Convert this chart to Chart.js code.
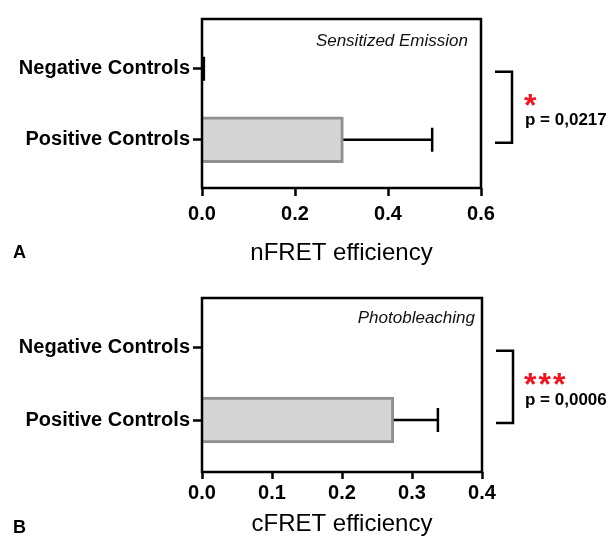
<!DOCTYPE html>
<html><head><meta charset="utf-8">
<script src="https://cdn.jsdelivr.net/npm/chart.js@4/dist/chart.umd.min.js"></script>
<style>
html,body{margin:0;padding:0;background:#fff;}
#wrap{position:relative;width:616px;height:544px;overflow:hidden;font-family:"Liberation Sans",Arial,sans-serif;color:#000;}
canvas{position:absolute;left:0;}
.t{position:absolute;white-space:nowrap;line-height:1;}
.b{font-weight:bold;}
.red{color:#f0141e;font-weight:bold;font-size:32px;}
.sub{font-style:italic;font-size:17px;color:#111;}
.p{font-weight:bold;font-size:17px;}
</style></head><body>
<div id="wrap">
<canvas id="cA" width="616" height="272" style="top:0"></canvas>
<canvas id="cB" width="616" height="272" style="top:272px"></canvas>
<div class="t b" style="left:13px;top:243px;font-size:18px;">A</div>
<div class="t b" style="left:13px;top:518px;font-size:18px;">B</div>
<div class="t sub" style="right:148px;top:32px;">Sensitized Emission</div>
<div class="t sub" style="right:141px;top:309px;">Photobleaching</div>
<div class="t red" style="left:524px;top:89px;">*</div>
<div class="t red" style="left:524px;top:368px;letter-spacing:2px;">***</div>
<div class="t p" style="left:525px;top:111px;">p = 0,0217</div>
<div class="t p" style="left:525px;top:391px;">p = 0,0006</div>
</div>
<script>
const categories = ['Negative Controls', 'Positive Controls'];
const nfretMeans = [0.002, 0.304];
const nfretErrors = [0.002, 0.191];
const cfretMeans = [0, 0.274];
const cfretErrors = [0, 0.063];
const nfretTicks = [0, 0.2, 0.4, 0.6];
const cfretTicks = [0, 0.1, 0.2, 0.3, 0.4];

const FONT = '"Liberation Sans", Arial, sans-serif';
Chart.defaults.color = '#000';
Chart.defaults.font.family = FONT;

function overlayPlugin(means, errors, cap, bracketOffset) {
  return {
    id: 'overlay',
    afterDatasetsDraw(chart) {
      const {ctx, scales: {x, y}} = chart;
      ctx.save();
      ctx.strokeStyle = '#000';
      ctx.lineWidth = 2.5;
      means.forEach((m, i) => {
        const e = errors[i];
        if (!(e > 0)) return;
        const yp = y.getPixelForValue(i);
        const x0 = x.getPixelForValue(m);
        const x1 = x.getPixelForValue(m + e);
        ctx.beginPath();
        ctx.moveTo(x0, yp); ctx.lineTo(x1, yp);
        ctx.moveTo(x1, yp - cap); ctx.lineTo(x1, yp + cap);
        ctx.stroke();
      });
      ctx.restore();
    },
    afterDraw(chart) {
      const {ctx, chartArea: a, scales: {y}} = chart;
      ctx.save();
      ctx.strokeStyle = '#000';
      ctx.lineWidth = 2.5;
      ctx.strokeRect(a.left, a.top, a.right - a.left, a.bottom - a.top);
      const yt = y.getPixelForValue(0) + bracketOffset;
      const yb = y.getPixelForValue(categories.length - 1) + bracketOffset;
      const xr = a.right + 31, xl = a.right + 14;
      ctx.beginPath();
      ctx.moveTo(xl, yt); ctx.lineTo(xr, yt); ctx.lineTo(xr, yb); ctx.lineTo(xl, yb);
      ctx.stroke();
      ctx.restore();
    }
  };
}

function makeChart(id, cfg) {
  const data = categories.map((c, i) => ({x: cfg.means[i], y: i}));
  return new Chart(document.getElementById(id), {
    type: 'bar',
    data: {
      datasets: [{
        data,
        backgroundColor: '#d5d5d5',
        borderColor: '#909090',
        borderWidth: 3,
        barThickness: cfg.barThickness
      }]
    },
    options: {
      indexAxis: 'y',
      responsive: false,
      animation: false,
      devicePixelRatio: 1,
      layout: {padding: {top: cfg.padTop, right: cfg.padRight, left: 0, bottom: 0}},
      plugins: {legend: {display: false}, tooltip: {enabled: false}},
      scales: {
        x: {
          type: 'linear',
          min: cfg.ticks[0],
          max: cfg.ticks[cfg.ticks.length - 1],
          afterBuildTicks: s => { s.ticks = cfg.ticks.map(v => ({value: v})); },
          afterFit: s => { s.height = cfg.xHeight; },
          ticks: {
            callback: v => Number(v).toFixed(1),
            font: {size: 20, weight: 'bold', family: FONT},
            color: '#000',
            padding: cfg.xTickPad,
            autoSkip: false,
            maxRotation: 0
          },
          grid: {drawOnChartArea: false, drawTicks: true, tickLength: cfg.xTickLen, tickWidth: 2.5, tickColor: '#000', color: '#000'},
          border: {display: false},
          title: {
            display: true,
            text: cfg.title,
            font: {size: 24, weight: 'normal', family: FONT},
            color: '#000',
            padding: {top: 0, bottom: cfg.titlePad}
          }
        },
        y: {
          type: 'linear',
          reverse: true,
          offset: false,
          bounds: 'data',
          min: cfg.yMin,
          max: cfg.yMax,
          afterBuildTicks: s => { s.ticks = categories.map((c, i) => ({value: i})); },
          afterFit: s => { s.width = 202; },
          ticks: {
            callback: v => categories[v] ?? '',
            font: {size: 20, weight: 'bold', family: FONT},
            color: '#000',
            padding: 3,
            autoSkip: false
          },
          grid: {offset: false, drawOnChartArea: false, drawTicks: true, tickLength: 9, tickWidth: 2.5, tickColor: '#000', color: '#000'},
          border: {display: false}
        }
      }
    },
    plugins: [overlayPlugin(cfg.means, cfg.errors, 12, cfg.bracketOffset)]
  });
}

makeChart('cA', {
  means: nfretMeans, errors: nfretErrors, ticks: nfretTicks, title: 'nFRET efficiency',
  padTop: 19, padRight: 135, xHeight: 84, xTickLen: 8, xTickPad: 6, titlePad: 4,
  yMin: -0.7, yMax: 1.68, barThickness: 46, bracketOffset: 3
});
makeChart('cB', {
  means: cfretMeans, errors: cfretErrors, ticks: cfretTicks, title: 'cFRET efficiency',
  padTop: 26, padRight: 134, xHeight: 72, xTickLen: 7, xTickPad: 2, titlePad: 5,
  yMin: -0.69, yMax: 1.72, barThickness: 46, bracketOffset: 3
});
</script>
</body></html>
